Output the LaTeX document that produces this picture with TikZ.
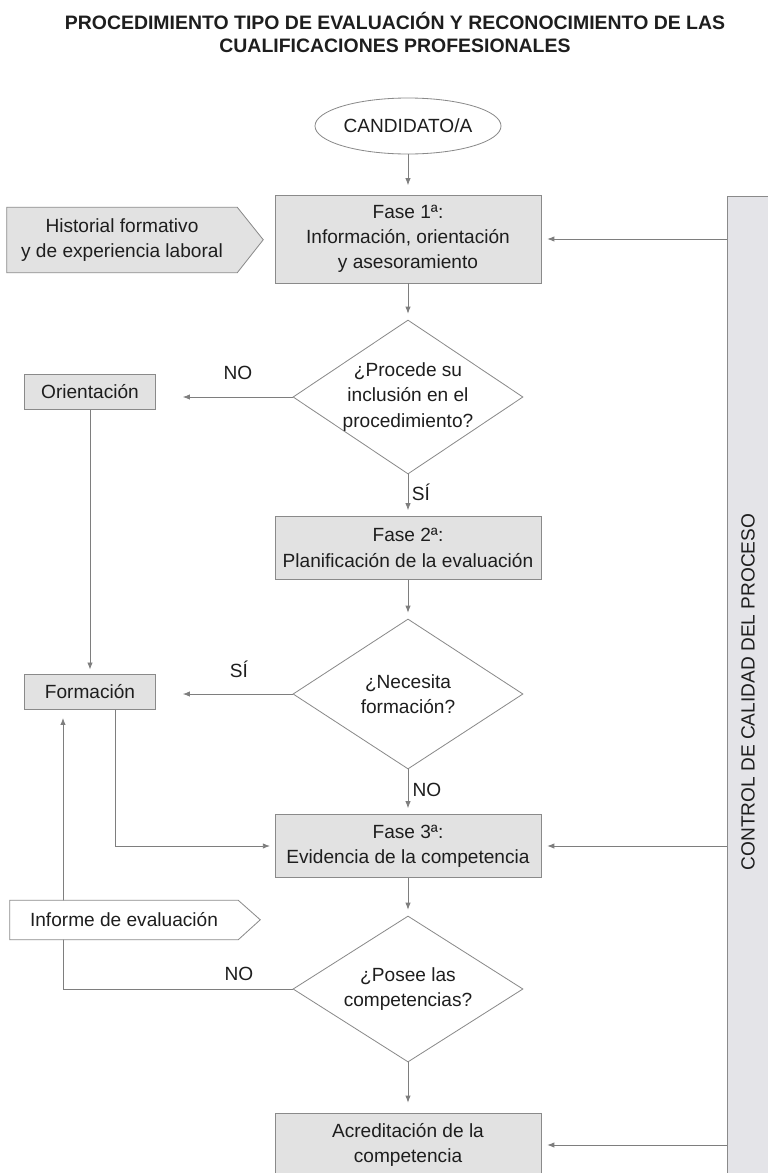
\documentclass[tikz,border=0pt]{standalone}
\usepackage{fontspec}
\setmainfont{Liberation Sans}
\usetikzlibrary{arrows.meta,shapes.geometric,backgrounds,calc}
\definecolor{boxfill}{HTML}{E2E2E2}
\definecolor{ctrlfill}{HTML}{E4E4E8}
\definecolor{edge}{HTML}{8A8A8A}
\definecolor{ink}{HTML}{1E1E1E}
\definecolor{wire}{HTML}{7E7E7E}
\begin{document}
\begin{tikzpicture}[x=0.03cm,y=-0.03cm,
  txt/.style={font=\fontsize{16.3}{21.5}\selectfont, text=ink, align=center},
  graybox/.style={txt, draw=edge, fill=boxfill, line width=0.7pt, inner sep=0pt},
  phasebox/.style={graybox, minimum width=7.98cm},
  sidebox/.style={graybox, minimum width=3.93cm, minimum height=1.04cm},
  dia/.style={diamond, draw=edge, fill=white, line width=0.7pt, inner sep=0pt, minimum width=6.9cm},
  oval/.style={ellipse, txt, draw=edge, fill=white, line width=0.7pt, inner sep=0pt, minimum width=5.58cm, minimum height=1.68cm},
  arr/.style={draw=wire, line width=0.7pt, -{Latex[length=6pt,width=4.6pt]}},
  lbl/.style={txt}
]
\clip (0,0) rectangle (768,1173);
\useasboundingbox (0,0) rectangle (768,1173);

% title
\node[font=\fontsize{16.6}{19.6}\selectfont\bfseries, text=ink, align=center] (title) at (395,32)
  {PROCEDIMIENTO TIPO DE EVALUACIÓN Y RECONOCIMIENTO DE LAS\\CUALIFICACIONES PROFESIONALES};

% control column
\node[draw=edge, fill=ctrlfill, line width=0.7pt, minimum width=1.26cm, minimum height=29.82cm, inner sep=0pt] (ctrl) at (748,693) {};
\node[txt, rotate=90] (ctrltext) at (748,692) {CONTROL DE CALIDAD DEL PROCESO};

% main column
\node[oval] (cand) at (408,126) {CANDIDATO/A};
\node[phasebox, minimum height=2.64cm] (f1) at (408,239) {Fase 1ª:\\Información, orientación\\y asesoramiento};
\node[dia, minimum height=4.62cm, label={[txt]center:¿Procede su\\inclusión en el\\procedimiento?}] (d1) at (408,397) {};
\node[phasebox, minimum height=1.89cm] (f2) at (408,548) {Fase 2ª:\\Planificación de la evaluación};
\node[dia, minimum height=4.5cm, label={[txt]center:¿Necesita\\formación?}] (d2) at (408,694) {};
\node[phasebox, minimum height=1.89cm] (f3) at (408,846) {Fase 3ª:\\Evidencia de la competencia};
\node[dia, minimum height=4.38cm, label={[txt]center:¿Posee las\\competencias?}] (d3) at (408,989) {};
\node[phasebox, minimum height=1.92cm] (acr) at (408,1145) {Acreditación de la\\competencia};

% side boxes
\node[sidebox] (orient) at (90,392) {Orientación};
\node[sidebox] (form) at (90,692) {Formación};

% pointer-shaped notes (text nodes; outlines drawn on background)
\node[txt, minimum width=6.9cm, minimum height=1.95cm, inner sep=0pt] (hist) at (122,240) {Historial formativo\\y de experiencia laboral};
\node[txt, minimum width=6.84cm, minimum height=1.17cm, inner sep=0pt] (inf) at (124,920) {Informe de evaluación};
\begin{scope}[on background layer]
  % loop from the last decision back to Formación (passes behind the report note)
  \draw[arr, shorten >=7pt] (d3.west) -| ([xshift=-0.81cm]form.south);
  \draw[draw=edge, fill=boxfill, line width=0.7pt] (hist.north west) -- (hist.north east) -- ++(26,32.5) -- (hist.south east) -- (hist.south west) -- cycle;
  \draw[draw=edge, fill=white, line width=0.7pt] (inf.north west) -- (inf.north east) -- ++(22,19.5) -- (inf.south east) -- (inf.south west) -- cycle;
\end{scope}

% vertical flow
\draw[arr, shorten >=8pt] (cand) -- (f1);
\draw[arr, shorten >=5pt] (f1) -- (d1);
\draw[arr, shorten >=5pt] (d1) -- (f2);
\draw[arr, shorten >=5pt] (f2) -- (d2);
\draw[arr, shorten >=5pt] (d2) -- (f3);
\draw[arr, shorten >=5pt] (f3) -- (d3);
\draw[arr, shorten >=8.5pt] (d3) -- (acr);

% decisions to the left
\draw[arr, shorten >=23pt] (d1.west) -- (orient.east |- d1.west);
\node[lbl] (no1) at (238,373) {NO};
\draw[arr, shorten >=23pt] (d2.west) -- (form.east |- d2.west);
\node[lbl] (si2) at (239,669) {SÍ};
\node[lbl] (si1) at (421,492) {SÍ};
\node[lbl] (no2) at (427,790) {NO};
\node[lbl] (no3) at (239,974) {NO};

% left column links
\draw[arr, shorten >=4pt] (orient.south) -- (form.north);
\draw[arr, shorten >=4pt] ([xshift=0.75cm]form.south) |- (f3.west);

% control links
\draw[arr, shorten >=5pt] (f1.east -| ctrl.west) -- (f1.east);
\draw[arr, shorten >=5pt] (f3.east -| ctrl.west) -- (f3.east);
\draw[arr, shorten >=5pt] (acr.east -| ctrl.west) -- (acr.east);
\end{tikzpicture}
\end{document}
